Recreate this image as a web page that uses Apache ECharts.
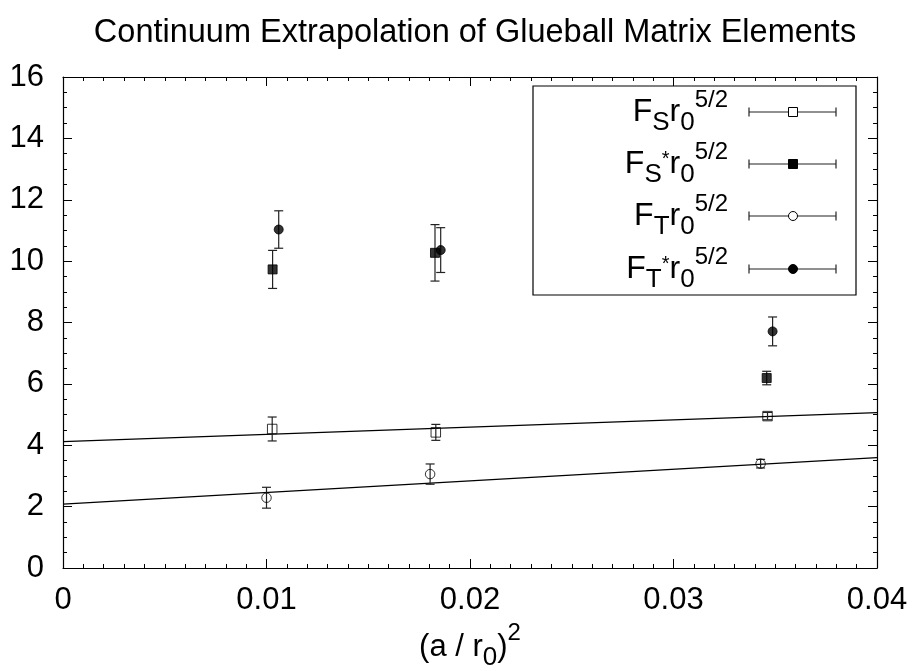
<!DOCTYPE html>
<html><head><meta charset="utf-8">
<script src="https://cdn.jsdelivr.net/npm/echarts@6/dist/echarts.min.js"></script>
<style>html,body{margin:0;padding:0;background:#fff}#c{width:913px;height:671px}</style>
</head><body><div id="c"></div>
<script>
// ---- data ----
const titleText = 'Continuum Extrapolation of Glueball Matrix Elements';
// F_S r0^{5/2} (open squares)
const xFS  = [0.01028, 0.01832, 0.03462];
const yFS  = [4.53, 4.42, 4.95];
const eFS  = [0.39, 0.26, 0.12];
// F_S* r0^{5/2} (filled squares)
const xFSs = [0.0103, 0.01828, 0.03458];
const yFSs = [9.73, 10.27, 6.19];
const eFSs = [0.62, 0.92, 0.22];
// F_T r0^{5/2} (open circles)
const xFT  = [0.0100, 0.01804, 0.03428];
const yFT  = [2.29, 3.06, 3.40];
const eFT  = [0.34, 0.33, 0.14];
// F_T* r0^{5/2} (filled circles)
const xFTs = [0.0106, 0.01856, 0.03487];
const yFTs = [11.03, 10.36, 7.71];
const eFTs = [0.61, 0.73, 0.47];
// linear fits (end points)
const fitX = [0, 0.04];
const fitS = [4.12, 5.06];
const fitT = [2.08, 3.60];
// axes
const xMin = 0, xMax = 0.04, xStep = 0.01;
const yMin = 0, yMax = 16, yStep = 2;
const legendLabels = [
  'F{s|S}r{s|0}{p|5/2}',
  'F{s|S}{st|*}r{s|0}{p|5/2}',
  'F{s|T}r{s|0}{p|5/2}',
  'F{s|T}{st|*}r{s|0}{p|5/2}'
];

const FONT = '"Liberation Sans", Arial, Helvetica, sans-serif';
const chart = echarts.init(document.getElementById('c'), null, {renderer: 'canvas'});

function errRender(params, api) {
  const x = api.value(0), lo = api.value(1), hi = api.value(2);
  const a = api.coord([x, lo]), b = api.coord([x, hi]);
  const hw = 4.5;
  const st = {stroke: '#222', lineWidth: 1.2, fill: null};
  return {type: 'group', children: [
    {type: 'line', shape: {x1: a[0], y1: a[1], x2: b[0], y2: b[1]}, style: st},
    {type: 'line', shape: {x1: a[0] - hw, y1: a[1], x2: a[0] + hw, y2: a[1]}, style: st},
    {type: 'line', shape: {x1: b[0] - hw, y1: b[1], x2: b[0] + hw, y2: b[1]}, style: st}
  ]};
}
function errData(xs, ys, es) { return xs.map((x, i) => [x, ys[i] - es[i], ys[i] + es[i]]); }
function ptData(xs, ys) { return xs.map((x, i) => [x, ys[i]]); }

const sets = [
  {name: 'FS',  xs: xFS,  ys: yFS,  es: eFS,  sym: 'rect',   filled: false, size: 9.5},
  {name: 'FS*', xs: xFSs, ys: yFSs, es: eFSs, sym: 'rect',   filled: true,  size: 9},
  {name: 'FT',  xs: xFT,  ys: yFT,  es: eFT,  sym: 'circle', filled: false, size: 9.5},
  {name: 'FT*', xs: xFTs, ys: yFTs, es: eFTs, sym: 'circle', filled: true,  size: 9}
];

const series = [
  {type: 'line', data: fitX.map((x, i) => [x, fitS[i]]), symbol: 'none', silent: true,
   lineStyle: {color: '#000', width: 1.3}, z: 1},
  {type: 'line', data: fitX.map((x, i) => [x, fitT[i]]), symbol: 'none', silent: true,
   lineStyle: {color: '#000', width: 1.3}, z: 1}
];
sets.forEach(s => {
  series.push({type: 'custom', name: s.name + ' err', data: errData(s.xs, s.ys, s.es),
    encode: {x: 0, y: [1, 2]}, renderItem: errRender, z: 2, silent: true});
  series.push({type: 'scatter', name: s.name, data: ptData(s.xs, s.ys), symbol: s.sym,
    symbolSize: s.size, z: 3, silent: true,
    itemStyle: s.filled ? {color: '#000', borderColor: '#000', borderWidth: 1}
                        : {color: 'rgba(0,0,0,0)', borderColor: '#000', borderWidth: 1}});
});

const axCommon = {
  axisLine: {show: true, onZero: false, lineStyle: {color: '#000', width: 1.2}},
  axisTick: {show: true, inside: true, length: 9, lineStyle: {color: '#000', width: 1}},
  splitLine: {show: false}, minorSplitLine: {show: false}
};

// legend drawn as graphics
const rowY = [112, 164, 216, 269];
const legendChildren = [{type: 'rect', shape: {x: 533, y: 86, width: 323, height: 209},
  style: {fill: null, stroke: '#000', lineWidth: 1.2}}];
const rich = {
  s: {fontSize: 26, fontFamily: FONT, fill: '#000', color: '#000', padding: [22, 0, 0, 0]},
  st: {fontSize: 20, fontFamily: FONT, fill: '#000', color: '#000', padding: [0, 0, 10, 0]},
  p: {fontSize: 24, fontFamily: FONT, fill: '#000', color: '#000', padding: [0, 0, 24, 0]}
};
sets.forEach((s, i) => {
  const y = rowY[i];
  legendChildren.push({type: 'text', x: 728, y: y,
    style: {text: legendLabels[i], fontSize: 32, fontFamily: FONT, fill: '#000',
      align: 'right', verticalAlign: 'middle', rich: rich}});
  const ls = {stroke: '#222', lineWidth: 1.2};
  legendChildren.push({type: 'line', shape: {x1: 749, y1: y, x2: 836, y2: y}, style: ls});
  legendChildren.push({type: 'line', shape: {x1: 749, y1: y - 4.5, x2: 749, y2: y + 4.5}, style: ls});
  legendChildren.push({type: 'line', shape: {x1: 836, y1: y - 4.5, x2: 836, y2: y + 4.5}, style: ls});
  const st = s.filled ? {fill: '#000', stroke: '#000', lineWidth: 1} : {fill: '#fff', stroke: '#000', lineWidth: 1};
  if (s.sym === 'rect') legendChildren.push({type: 'rect', shape: {x: 793 - 4.5, y: y - 4.5, width: 9, height: 9}, style: st});
  else legendChildren.push({type: 'circle', shape: {cx: 793, cy: y, r: 4.5}, style: st});
});

const xMinor = {show: true, splitNumber: 10, length: 4, lineStyle: {color: '#000', width: 1}};
const yMinor = {show: true, splitNumber: 4, length: 4, lineStyle: {color: '#000', width: 1}};

const option = {
  backgroundColor: '#fff',
  animation: false,
  title: {text: titleText, left: 470, textAlign: 'center', top: 12,
    textStyle: {fontSize: 32.5, fontWeight: 'normal', color: '#000', fontFamily: FONT}},
  grid: {left: 63, right: 36, top: 77, bottom: 103, containLabel: false, outerBoundsMode: 'none'},
  xAxis: [
    Object.assign({type: 'value', min: xMin, max: xMax, interval: xStep, position: 'bottom',
      axisLabel: {fontSize: 31, color: '#000', fontFamily: FONT, margin: 17,
        formatter: v => String(+v.toFixed(2))},
      name: '(a / r{s|0}){p|2}', nameLocation: 'middle', nameGap: 53,
      nameTextStyle: {fontSize: 31, color: '#000', fontFamily: FONT,
        rich: {s: {fontSize: 26, color: '#000', fontFamily: FONT, padding: [22, 0, 0, 0]},
               p: {fontSize: 24, color: '#000', fontFamily: FONT, padding: [0, 0, 28, 0]}}}
    }, axCommon, {minorTick: xMinor}),
    Object.assign({type: 'value', min: xMin, max: xMax, interval: xStep, position: 'top',
      axisLabel: {show: false}}, axCommon, {minorTick: xMinor})
  ],
  yAxis: [
    Object.assign({type: 'value', min: yMin, max: yMax, interval: yStep, position: 'left',
      axisLabel: {fontSize: 31, color: '#000', fontFamily: FONT, margin: 19}}, axCommon,
      {minorTick: yMinor}),
    Object.assign({type: 'value', min: yMin, max: yMax, interval: yStep, position: 'right',
      axisLabel: {show: false}}, axCommon, {minorTick: yMinor})
  ],
  series: series,
  graphic: [{type: 'group', children: legendChildren, z: 100}]
};
chart.setOption(option);
</script></body></html>
